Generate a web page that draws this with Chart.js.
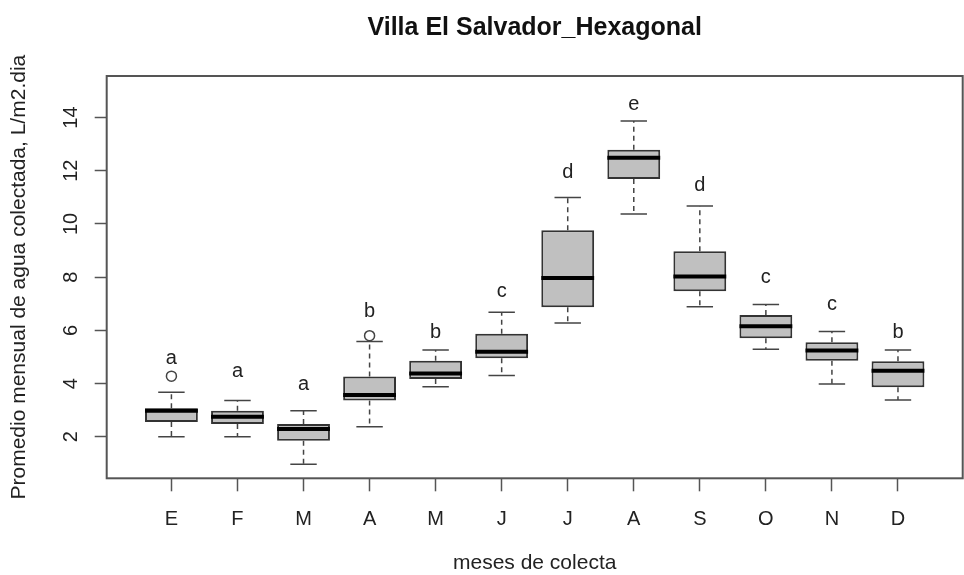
<!DOCTYPE html>
<html>
<head>
<meta charset="utf-8">
<title>Villa El Salvador_Hexagonal</title>
<script src="https://cdn.jsdelivr.net/npm/chart.js@4.4.1/dist/chart.umd.min.js"></script>
<style>
  html, body { margin: 0; padding: 0; background: #fff; }
  #boxChart { display: block; }
</style>
</head>
<body>
<canvas id="boxChart" width="964" height="575"></canvas>
<script>
// boxplot statistics (L/m2.dia)
var meses      = ['E', 'F', 'M', 'A', 'M', 'J', 'J', 'A', 'S', 'O', 'N', 'D']
var bigoteInf  = [2.00, 2.00, 0.97, 2.38, 3.88, 4.30, 6.28, 10.37, 6.89, 5.29, 3.98, 3.38]
var cuartil1   = [2.56, 2.48, 1.85, 3.36, 4.17, 4.95, 6.87, 11.69, 7.47, 5.70, 4.86, 3.86]
var mediana    = [2.98, 2.75, 2.29, 3.57, 4.38, 5.20, 7.97, 12.49, 8.02, 6.15, 5.24, 4.48]
var cuartil3   = [3.07, 2.98, 2.48, 4.27, 4.86, 5.87, 9.76, 12.79, 8.97, 6.58, 5.55, 4.84]
var bigoteSup  = [3.67, 3.36, 2.98, 5.58, 5.26, 6.68, 10.99, 13.87, 10.67, 6.97, 5.96, 5.26]
var atipicos   = [[4.28], [], [], [5.80], [], [], [], [], [], [], [], []]
var letras     = ['a', 'a', 'a', 'b', 'b', 'c', 'd', 'e', 'd', 'c', 'c', 'b']
var letrasY    = [4.96, 4.46, 3.96, 6.72, 5.93, 7.47, 11.93, 14.49, 11.43, 7.97, 6.96, 5.93]
var yTicks     = [2, 4, 6, 8, 10, 12, 14]

var FONT = '"Liberation Sans", Arial, sans-serif'

// whiskers, medians, outliers and group letters on top of the bars
var boxplotExtras = {
  id: 'boxplotExtras',
  afterDatasetsDraw: function (chart) {
    var ctx = chart.ctx
    var xs = chart.scales.x
    var ys = chart.scales.y
    var bars = chart.getDatasetMeta(0).data
    ctx.save()
    meses.forEach(function (m, i) {
      var x = xs.getPixelForValue(i + 1)
      var half = bars[i].width / 2
      var cap = half / 2

      // dashed whiskers
      ctx.strokeStyle = '#444'
      ctx.lineWidth = 1.5
      ctx.setLineDash([5, 4])
      ctx.beginPath()
      ctx.moveTo(x, ys.getPixelForValue(cuartil3[i]))
      ctx.lineTo(x, ys.getPixelForValue(bigoteSup[i]))
      ctx.moveTo(x, ys.getPixelForValue(cuartil1[i]))
      ctx.lineTo(x, ys.getPixelForValue(bigoteInf[i]))
      ctx.stroke()
      ctx.setLineDash([])

      // staples
      ctx.beginPath()
      ctx.moveTo(x - cap, ys.getPixelForValue(bigoteSup[i]))
      ctx.lineTo(x + cap, ys.getPixelForValue(bigoteSup[i]))
      ctx.moveTo(x - cap, ys.getPixelForValue(bigoteInf[i]))
      ctx.lineTo(x + cap, ys.getPixelForValue(bigoteInf[i]))
      ctx.stroke()

      // median
      ctx.strokeStyle = '#000'
      ctx.lineWidth = 4
      ctx.beginPath()
      ctx.moveTo(x - half, ys.getPixelForValue(mediana[i]))
      ctx.lineTo(x + half, ys.getPixelForValue(mediana[i]))
      ctx.stroke()

      // outliers
      ctx.strokeStyle = '#444'
      ctx.lineWidth = 1.5
      atipicos[i].forEach(function (v) {
        ctx.beginPath()
        ctx.arc(x, ys.getPixelForValue(v), 5, 0, Math.PI * 2)
        ctx.stroke()
      })

      // letters
      ctx.fillStyle = '#222'
      ctx.font = '20px ' + FONT
      ctx.textAlign = 'center'
      ctx.textBaseline = 'middle'
      ctx.fillText(letras[i], x, ys.getPixelForValue(letrasY[i]))
    })
    ctx.restore()
  },
  afterDraw: function (chart) {
    var ctx = chart.ctx
    var a = chart.chartArea
    ctx.save()
    // plot frame
    ctx.strokeStyle = '#555'
    ctx.lineWidth = 2
    ctx.strokeRect(a.left, a.top, a.right - a.left, a.bottom - a.top)
    // main title
    ctx.fillStyle = '#111'
    ctx.font = 'bold 25px ' + FONT
    ctx.textAlign = 'center'
    ctx.textBaseline = 'alphabetic'
    ctx.fillText('Villa El Salvador_Hexagonal', (a.left + a.right) / 2, 35)
    ctx.restore()
  }
}

var cajas = meses.map(function (m, i) {
  return { x: i + 1, y: [cuartil1[i], cuartil3[i]] }
})

var boxCanvas = document.getElementById('boxChart').getContext('2d')

var boxChart = new Chart(boxCanvas, {
  type: 'bar',
  data: {
    datasets: [{
      data: cajas,
      backgroundColor: '#c0c0c0',
      borderColor: '#333',
      borderWidth: 2,
      borderSkipped: false,
      barPercentage: 0.8,
      categoryPercentage: 1
    }]
  },
  options: {
    responsive: false,
    animation: false,
    devicePixelRatio: 1,
    layout: { padding: { top: 76, right: 1.3, bottom: 0, left: 0 } },
    plugins: {
      legend: { display: false },
      tooltip: { enabled: false },
      title: { display: false }
    },
    scales: {
      x: {
        type: 'linear',
        min: 0.02,
        max: 12.98,
        offset: false,
        afterBuildTicks: function (s) {
          s.ticks = meses.map(function (m, i) { return { value: i + 1 } })
        },
        afterFit: function (s) { s.height = 96.7 },
        ticks: {
          autoSkip: false,
          maxRotation: 0,
          padding: 16,
          color: '#222',
          font: { family: FONT, size: 20 },
          callback: function (v, i) { return meses[i] }
        },
        grid: { offset: false, drawOnChartArea: false, drawTicks: true, tickLength: 13, tickColor: '#555', tickWidth: 1.5 },
        border: { display: false },
        title: {
          display: true,
          text: 'meses de colecta',
          color: '#222',
          font: { family: FONT, size: 21, lineHeight: 1.1 },
          padding: { top: 0, bottom: 0 }
        }
      },
      y: {
        type: 'linear',
        min: 0.44,
        max: 15.56,
        afterBuildTicks: function (s) {
          s.ticks = yTicks.map(function (v) { return { value: v } })
        },
        afterFit: function (s) { s.width = 106.7 },
        ticks: {
          minRotation: 90,
          maxRotation: 90,
          crossAlign: 'center',
          padding: 12,
          color: '#222',
          font: { family: FONT, size: 20 }
        },
        grid: { drawOnChartArea: false, drawTicks: true, tickLength: 12, tickColor: '#555', tickWidth: 1.5 },
        border: { display: false },
        title: {
          display: true,
          text: 'Promedio mensual de agua colectada, L/m2.dia',
          color: '#222',
          font: { family: FONT, size: 21 },
          padding: { top: 6.4, bottom: 0 }
        }
      }
    }
  },
  plugins: [boxplotExtras]
})
</script>
</body>
</html>
